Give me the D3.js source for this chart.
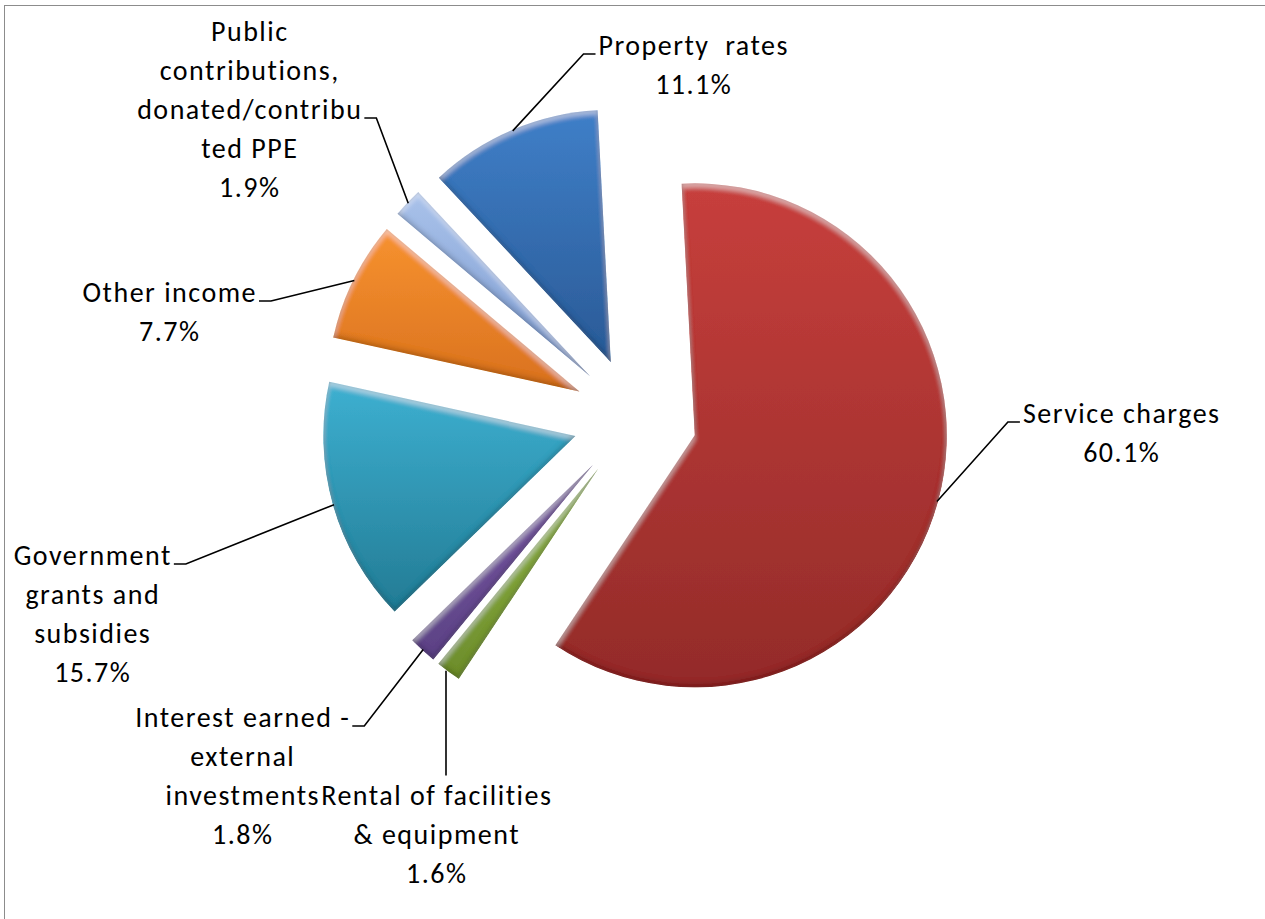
<!DOCTYPE html>
<html>
<head>
<meta charset="utf-8">
<script src="https://cdn.jsdelivr.net/npm/d3@7"></script>
<style>
  html, body { margin: 0; padding: 0; background: #fff; }
  svg { display: block; }
  text { font-family: Carlito, Calibri, Lato, sans-serif; fill: #000; letter-spacing: 1.5px; white-space: pre; }
</style>
</head>
<body>
<svg id="chart" width="1265" height="919"></svg>
<script>
// Revenue sources, share of total (%), in drawing order (clockwise)
const categories = [
  "Property rates",
  "Service charges",
  "Rental of facilities & equipment",
  "Interest earned - external investments",
  "Government grants and subsidies",
  "Other income",
  "Public contributions, donated/contributed PPE"
];
const shares = [11.1, 60.1, 1.6, 1.8, 15.7, 7.7, 1.9];

// Wrapped category text for each label
const labelLines = [
  ["Property  rates"],
  ["Service charges"],
  ["Rental of facilities", "& equipment"],
  ["Interest earned -", "external", "investments"],
  ["Government", "grants and", "subsidies"],
  ["Other income"],
  ["Public", "contributions,", "donated/contribu", "ted PPE"]
];

// Slice shading: light (top) and dark (bottom) tones
const topColors    = ["#3f7fc8", "#c73f3c", "#94b84a", "#7c5ca6", "#3db0d1", "#f7922f", "#a9c2ea"];
const bottomColors = ["#2a5a96", "#932b29", "#6c8c2b", "#5b4184", "#237b94", "#d9711f", "#7c9ad0"];

// Label placement: [centre x, first baseline y], leader elbow side
const labelPlace = [
  { x: 693, y: 55,  elbow: "left"  },
  { x: 1121, y: 423, elbow: "left" },
  { x: 436, y: 805, elbow: "top"   },
  { x: 242, y: 727, elbow: "right" },
  { x: 92,  y: 565, elbow: "right" },
  { x: 169, y: 302, elbow: "right" },
  { x: 249, y: 41,  elbow: "right", elbowLine: 2 }
];

const width = 1265, height = 919;
const cx = 635, cy = 419;       // pie centre
const radius = 252;
const explode = 62;             // outward offset of every slice
const lineHeight = 39;
const fontSize = 28;
const letterSpacing = 1.5;

const svg = d3.select("#chart");

// chart frame
svg.append("rect")
  .attr("x", 4.5).attr("y", 5.5)
  .attr("width", width + 20).attr("height", height + 20)
  .attr("fill", "none").attr("stroke", "#8c8c8c").attr("stroke-width", 1);

const defs = svg.append("defs");

// bevel: light top rim, dark bottom rim, faint edge darkening
const f = defs.append("filter").attr("id", "bevel")
  .attr("x", "-5%").attr("y", "-5%").attr("width", "110%").attr("height", "110%");
f.append("feGaussianBlur").attr("in", "SourceAlpha").attr("stdDeviation", 2.5).attr("result", "b");
f.append("feOffset").attr("in", "b").attr("dx", 0).attr("dy", 4).attr("result", "bDown");
f.append("feComposite").attr("in", "SourceAlpha").attr("in2", "bDown")
  .attr("operator", "arithmetic").attr("k1", 0).attr("k2", 1).attr("k3", -1).attr("k4", 0).attr("result", "topEdge");
f.append("feFlood").attr("flood-color", "#ffffff").attr("flood-opacity", 0.4).attr("result", "white");
f.append("feComposite").attr("in", "white").attr("in2", "topEdge").attr("operator", "in").attr("result", "hl");
f.append("feOffset").attr("in", "b").attr("dx", 0).attr("dy", -4).attr("result", "bUp");
f.append("feComposite").attr("in", "SourceAlpha").attr("in2", "bUp")
  .attr("operator", "arithmetic").attr("k1", 0).attr("k2", 1).attr("k3", -1).attr("k4", 0).attr("result", "botEdge");
f.append("feFlood").attr("flood-color", "#000000").attr("flood-opacity", 0.3).attr("result", "black");
f.append("feComposite").attr("in", "black").attr("in2", "botEdge").attr("operator", "in").attr("result", "sh");
f.append("feGaussianBlur").attr("in", "SourceAlpha").attr("stdDeviation", 1.5).attr("result", "b2");
f.append("feComposite").attr("in", "SourceAlpha").attr("in2", "b2")
  .attr("operator", "arithmetic").attr("k1", 0).attr("k2", 1).attr("k3", -1).attr("k4", 0).attr("result", "rimEdge");
f.append("feFlood").attr("flood-color", "#000000").attr("flood-opacity", 0.35).attr("result", "black2");
f.append("feComposite").attr("in", "black2").attr("in2", "rimEdge").attr("operator", "in").attr("result", "rim");
const m = f.append("feMerge");
m.append("feMergeNode").attr("in", "SourceGraphic");
m.append("feMergeNode").attr("in", "hl");
m.append("feMergeNode").attr("in", "sh");
m.append("feMergeNode").attr("in", "rim");

shares.forEach((_, i) => {
  const g = defs.append("linearGradient").attr("id", "grad" + i)
    .attr("x1", 0).attr("y1", 0).attr("x2", 0).attr("y2", 1);
  g.append("stop").attr("offset", "0%").attr("stop-color", topColors[i]);
  g.append("stop").attr("offset", "100%").attr("stop-color", bottomColors[i]);
});

const rad = d => d * Math.PI / 180;
const firstSliceAngle = -43;   // degrees clockwise from 12 o'clock

const pie = d3.pie()
  .sort(null)
  .value(d => d.value)
  .startAngle(rad(firstSliceAngle))
  .endAngle(rad(firstSliceAngle + 360));

const rows = categories.map((c, i) => ({ name: c, value: shares[i], i }));
const arcs = pie(rows);

const arc = d3.arc().innerRadius(0).outerRadius(radius);
const rimArc = d3.arc().innerRadius(radius - 1).outerRadius(radius - 1);

const offsetOf = d => {
  const a = (d.startAngle + d.endAngle) / 2;
  return [explode * Math.sin(a), -explode * Math.cos(a)];
};

const pieG = svg.append("g").attr("transform", `translate(${cx},${cy})`);

pieG.selectAll("path.slice")
  .data(arcs)
  .join("path")
  .attr("class", "slice")
  .attr("transform", d => { const o = offsetOf(d); return `translate(${o[0]},${o[1]})`; })
  .attr("d", arc)
  .attr("fill", d => `url(#grad${d.index})`)
  .attr("filter", "url(#bevel)");

// labels
const pct = v => d3.format(".1f")(v) + "%";
const labelG = svg.append("g").attr("font-size", fontSize);

arcs.forEach(d => {
  const p = labelPlace[d.index];
  const lines = labelLines[d.index].concat([pct(d.data.value)]);
  // letter-spacing adds a trailing gap; nudge to keep lines centred
  const x0 = p.x + letterSpacing / 2;
  const t = labelG.append("text")
    .attr("text-anchor", "middle")
    .attr("x", x0).attr("y", p.y);
  lines.forEach((ln, k) => {
    t.append("tspan").attr("x", x0).attr("y", p.y + k * lineHeight).text(ln);
  });

  // leader line to the slice's outer edge along its mid angle
  const o = offsetOf(d);
  const c = rimArc.centroid(d);
  const tx = cx + o[0] + c[0], ty = cy + o[1] + c[1];

  const lineIdx = p.elbowLine || 0;
  const tspans = t.selectAll("tspan").nodes();
  const box = tspans[lineIdx].getBBox();
  const ly = p.y + lineIdx * lineHeight - 1;
  let pts;
  if (p.elbow === "left") {
    pts = [[box.x - 3, ly], [box.x - 15, ly], [tx, ty]];
  } else if (p.elbow === "right") {
    pts = [[box.x + box.width + 2, ly], [box.x + box.width + 14, ly], [tx, ty]];
  } else {
    const top = p.y - fontSize * 1.05;
    pts = [[tx - 3, top], [tx - 3, ty]];
  }
  labelG.append("path")
    .attr("d", d3.line()(pts))
    .attr("fill", "none").attr("stroke", "#000").attr("stroke-width", 1.6);
});
</script>
</body>
</html>
